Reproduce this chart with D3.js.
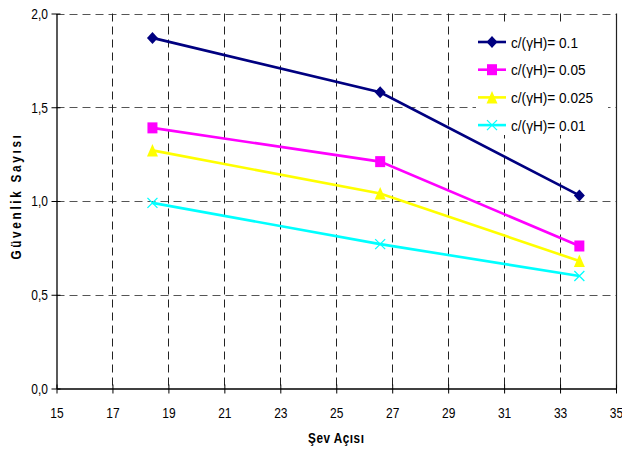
<!DOCTYPE html>
<html>
<head>
<meta charset="utf-8">
<script src="https://cdn.jsdelivr.net/npm/d3@7"></script>
<style>
  html, body { margin: 0; padding: 0; background: #fff; }
  svg { display: block; }
  text { font-family: "Liberation Sans", Arial, sans-serif; fill: #000; }
</style>
</head>
<body>
<svg id="chart" width="622" height="458"></svg>
<script>
// Slope angles (degrees) and safety factors for each c/(γH) ratio
const slopeAngles = [18.43, 26.57, 33.69];
const ratio01   = [1.87, 1.58, 1.03];
const ratio005  = [1.39, 1.21, 0.76];
const ratio0025 = [1.27, 1.04, 0.68];
const ratio001  = [0.99, 0.77, 0.60];
const seriesNames = ["c/(\u03B3H)= 0.1", "c/(\u03B3H)= 0.05", "c/(\u03B3H)= 0.025", "c/(\u03B3H)= 0.01"];
const xTicks = [15, 17, 19, 21, 23, 25, 27, 29, 31, 33, 35];
const yTicks = [0, 0.5, 1.0, 1.5, 2.0];

const series = [
  { name: seriesNames[0], values: ratio01,   color: "#000080", marker: "diamond" },
  { name: seriesNames[1], values: ratio005,  color: "#FF00FF", marker: "square" },
  { name: seriesNames[2], values: ratio0025, color: "#FFFF00", marker: "triangle" },
  { name: seriesNames[3], values: ratio001,  color: "#00FFFF", marker: "cross" }
];

const svg = d3.select("#chart");
const plotL = 56.5, plotR = 616, plotT = 13.5, plotB = 388.5;
const narrow = 0.8; // horizontal squeeze for a condensed look

const x = d3.scaleLinear().domain([15, 35]).range([plotL, plotR]);
const y = d3.scaleLinear().domain([0, 2]).range([plotB, plotT]);
const fmt = d => d3.format(".1f")(d).replace(".", ",");

// Dashed grid lines
const grid = svg.append("g");
grid.selectAll("line.h").data(yTicks.filter(d => d > 0)).join("line")
  .attr("x1", plotL).attr("x2", plotR)
  .attr("y1", d => Math.round(y(d)) + 0.5).attr("y2", d => Math.round(y(d)) + 0.5)
  .attr("stroke", "#555").attr("stroke-width", 1).attr("stroke-dasharray", "8,5");
grid.selectAll("line.v").data(xTicks.filter(d => d > 15 && d < 35)).join("line")
  .attr("y1", plotT).attr("y2", plotB)
  .attr("x1", d => Math.round(x(d)) + 0.5).attr("x2", d => Math.round(x(d)) + 0.5)
  .attr("stroke", "#222").attr("stroke-width", 1).attr("stroke-dasharray", "8,5");

// Right border of the plot area
svg.append("line").attr("x1", plotR + 0.5).attr("x2", plotR + 0.5)
  .attr("y1", plotT).attr("y2", plotB).attr("stroke", "#222").attr("stroke-width", 1.2);

// Axes
const xAxis = svg.append("g").attr("transform", `translate(0,${plotB})`)
  .call(d3.axisBottom(x).tickValues(xTicks).tickSize(5).tickPadding(14).tickSizeOuter(0));
xAxis.selectAll(".tick line").attr("y1", -4).attr("stroke", "#000");
xAxis.select(".domain").attr("stroke", "#000").attr("stroke-width", 1.3);
xAxis.selectAll("text").attr("font-size", 15).attr("fill", "#000")
  .attr("transform", `scale(${narrow},1)`)
  .style("font-family", "'Liberation Sans', Arial, sans-serif");

const yAxis = svg.append("g").attr("transform", `translate(${plotL},0)`)
  .call(d3.axisLeft(y).tickValues(yTicks).tickFormat(fmt).tickSize(5).tickPadding(4).tickSizeOuter(0));
yAxis.selectAll(".tick line").attr("x1", 4).attr("stroke", "#000");
yAxis.select(".domain").attr("stroke", "#000").attr("stroke-width", 1.3);
yAxis.selectAll("text").attr("font-size", 15).attr("fill", "#000")
  .attr("x", -8.5 / narrow).attr("transform", `scale(${narrow},1)`)
  .style("font-family", "'Liberation Sans', Arial, sans-serif");

// Axis titles
svg.append("text").attr("transform", `translate(${(plotL + plotR) / 2},443) scale(0.84,1)`)
  .attr("text-anchor", "middle").attr("font-size", 14).attr("font-weight", "bold")
  .attr("letter-spacing", 0.6).text("Şev Açısı");
svg.append("text").attr("transform", `translate(21,${(plotT + plotB) / 2 - 5}) rotate(-90) scale(0.84,1)`)
  .attr("text-anchor", "middle").attr("font-size", 14).attr("font-weight", "bold")
  .attr("letter-spacing", 3.2).text("Güvenlik Sayısı");

// Marker shapes
function drawMarker(g, type, color) {
  if (type === "diamond") {
    g.append("path").attr("d", "M0,-6L5.5,0L0,6L-5.5,0Z").attr("fill", color);
  } else if (type === "square") {
    g.append("rect").attr("x", -5).attr("y", -5.5).attr("width", 10).attr("height", 11).attr("fill", color);
  } else if (type === "triangle") {
    g.append("path").attr("d", "M0,-6.5L5.5,6L-5.5,6Z").attr("fill", color);
  } else {
    g.append("path").attr("d", "M-5,-5L5,5M-5,5L5,-5").attr("stroke", color).attr("stroke-width", 1.3).attr("fill", "none");
  }
}

// Series lines and markers
const line = d3.line().x((d, i) => x(slopeAngles[i])).y(d => y(d));
series.forEach(s => {
  svg.append("path").datum(s.values).attr("d", line)
    .attr("fill", "none").attr("stroke", s.color).attr("stroke-width", 2.6);
  s.values.forEach((v, i) => {
    const g = svg.append("g").attr("transform", `translate(${x(slopeAngles[i])},${y(v)})`);
    drawMarker(g, s.marker, s.color);
  });
});

// Legend
const legend = svg.append("g");
legend.append("rect").attr("x", 476).attr("y", 25).attr("width", 132).attr("height", 110).attr("fill", "#fff");
series.forEach((s, i) => {
  const ly = 42 + i * 27.7;
  legend.append("line").attr("x1", 478).attr("x2", 506).attr("y1", ly).attr("y2", ly)
    .attr("stroke", s.color).attr("stroke-width", 2.6);
  const g = legend.append("g").attr("transform", `translate(492,${ly})`);
  drawMarker(g, s.marker, s.color);
  legend.append("text").attr("transform", `translate(511,${ly + 5.5}) scale(0.88,1)`)
    .attr("font-size", 15.5).text(s.name);
});
</script>
</body>
</html>
